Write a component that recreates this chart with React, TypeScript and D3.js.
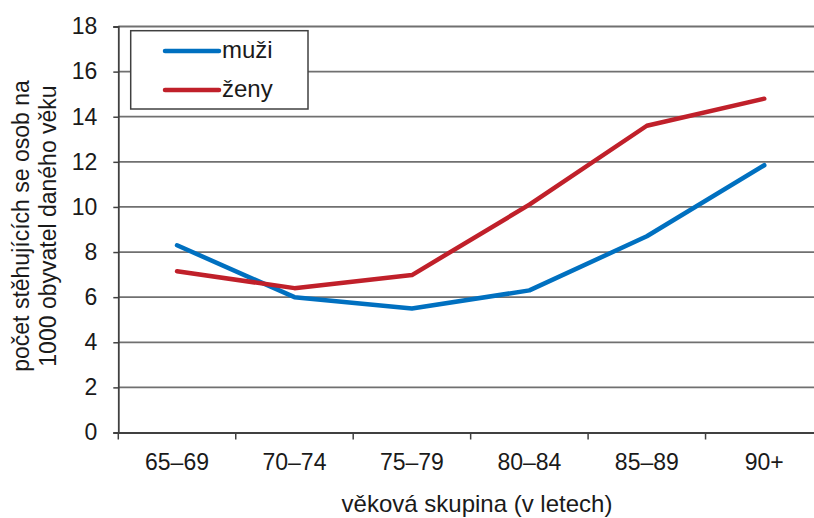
import React, { useEffect, useRef } from 'react';
import * as d3 from 'd3';

const categories = ['65–69', '70–74', '75–79', '80–84', '85–89', '90+'];
const muzi = [8.3, 6.0, 5.5, 6.3, 8.7, 11.85];
const zeny = [7.15, 6.4, 6.98, 10.1, 13.6, 14.8];
const yTicks = [0, 2, 4, 6, 8, 10, 12, 14, 16, 18];

const seriesNames = ['muži', 'ženy'];
const seriesColors = ['#0070C0', '#C0202A'];

const width = 814;
const height = 518;
const font = '"Liberation Sans", Arial, sans-serif';

const App: React.FC = () => {
  const svgRef = useRef<SVGSVGElement>(null);

  useEffect(() => {
    if (!svgRef.current) return;
    const svg = d3.select(svgRef.current);
    svg.selectAll('*').remove();

    const left = 118.3;
    const bandW = 117.45;

    const x = d3.scaleBand<string>()
      .domain(categories)
      .range([left, left + bandW * categories.length])
      .padding(0);

    const y = d3.scaleLinear().domain([0, 18]).range([432.5, 26.5]);

    // mřížka
    svg.append('g')
      .selectAll('line')
      .data(yTicks.filter(d => d > 0))
      .join('line')
      .attr('x1', left)
      .attr('x2', width)
      .attr('y1', d => y(d))
      .attr('y2', d => y(d))
      .attr('stroke', '#707070')
      .attr('stroke-width', 1.8);

    // osa y
    const yAxis = svg.append('g')
      .attr('transform', `translate(${left},0)`)
      .call(d3.axisLeft(y).tickValues(yTicks).tickSize(5).tickPadding(16));
    yAxis.select('.domain').attr('stroke', '#404040').attr('stroke-width', 1.8);
    yAxis.selectAll('.tick line').attr('stroke', '#404040').attr('stroke-width', 1.5);
    yAxis.selectAll('text')
      .attr('fill', '#1a1a1a')
      .style('font-family', font)
      .style('font-size', '23px');

    // osa x
    const xAxis = svg.append('g')
      .attr('transform', `translate(0,${y(0)})`)
      .call(d3.axisBottom(x).tickSize(0).tickPadding(20));
    xAxis.select('.domain').attr('stroke', '#404040').attr('stroke-width', 1.8);
    xAxis.selectAll('text')
      .attr('fill', '#1a1a1a')
      .attr('dy', null)
      .attr('y', 470 - y(0))
      .style('font-family', font)
      .style('font-size', '23px');

    svg.append('g')
      .selectAll('line')
      .data(categories.map((_, i) => left + i * bandW))
      .join('line')
      .attr('x1', d => d)
      .attr('x2', d => d)
      .attr('y1', y(0))
      .attr('y2', y(0) + 7)
      .attr('stroke', '#404040')
      .attr('stroke-width', 1.5);

    // čáry
    const line = d3.line<number>()
      .x((_, i) => (x(categories[i]) ?? 0) + x.bandwidth() / 2)
      .y(d => y(d));

    [muzi, zeny].forEach((s, i) => {
      svg.append('path')
        .datum(s)
        .attr('d', line)
        .attr('fill', 'none')
        .attr('stroke', seriesColors[i])
        .attr('stroke-width', 4.5)
        .attr('stroke-linejoin', 'round')
        .attr('stroke-linecap', 'round');
    });

    // legenda
    const lg = svg.append('g');
    lg.append('rect')
      .attr('x', 130.7)
      .attr('y', 30.7)
      .attr('width', 177.3)
      .attr('height', 78.3)
      .attr('fill', '#fff')
      .attr('stroke', '#404040')
      .attr('stroke-width', 1.5);
    seriesNames.forEach((name, i) => {
      const ly = 51 + i * 39;
      lg.append('line')
        .attr('x1', 165).attr('x2', 219)
        .attr('y1', ly).attr('y2', ly)
        .attr('stroke', seriesColors[i])
        .attr('stroke-width', 4.5)
        .attr('stroke-linecap', 'round');
      lg.append('text')
        .attr('x', 222)
        .attr('y', ly + 7)
        .attr('fill', '#1a1a1a')
        .style('font-family', font)
        .style('font-size', '24px')
        .text(name);
    });

    // popisky os
    const yTitle = svg.append('text')
      .attr('transform', 'translate(0,226) rotate(-90)')
      .attr('text-anchor', 'middle')
      .attr('fill', '#1a1a1a')
      .style('font-family', font)
      .style('font-size', '23px');
    yTitle.append('tspan').attr('x', 0).attr('y', 28.5).text('počet stěhujících se osob na');
    yTitle.append('tspan').attr('x', 0).attr('y', 55.5).text('1000 obyvatel daného věku');

    svg.append('text')
      .attr('x', 477)
      .attr('y', 512)
      .attr('text-anchor', 'middle')
      .attr('fill', '#1a1a1a')
      .style('font-family', font)
      .style('font-size', '24px')
      .text('věková skupina (v letech)');
  }, []);

  return (
    <svg
      ref={svgRef}
      width={width}
      height={height}
      style={{ position: 'absolute', left: 0, top: 0, background: '#fff' }}
    />
  );
};

export default App;
